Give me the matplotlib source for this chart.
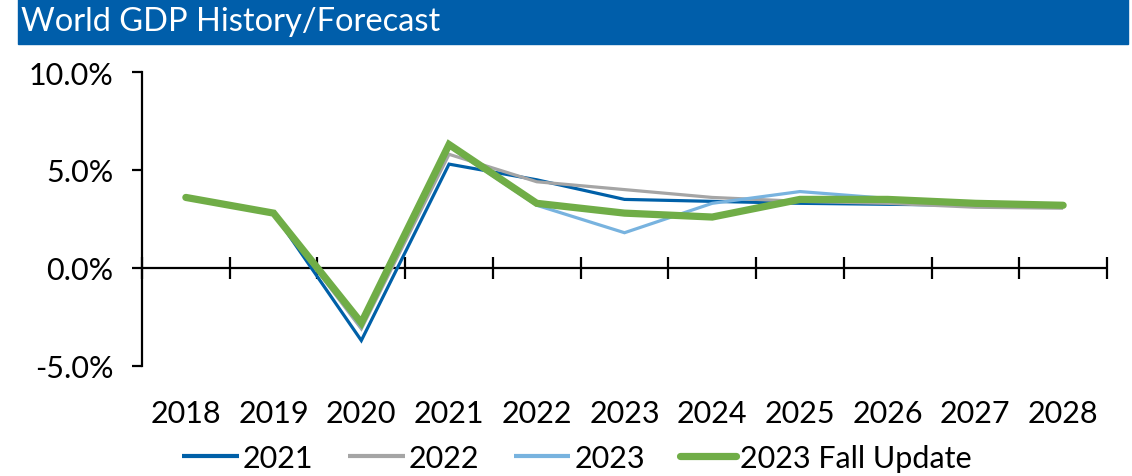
import numpy as np
import matplotlib
matplotlib.use("Agg")
import matplotlib.pyplot as plt
from matplotlib.patches import Rectangle
from matplotlib.ticker import FuncFormatter

plt.rcParams["font.family"] = ["Lato", "DejaVu Sans"]

# Croissance du PIB mondial (%), par millesime de prevision
years = ["2018", "2019", "2020", "2021", "2022", "2023",
         "2024", "2025", "2026", "2027", "2028"]
gdp_2021 = [3.6, 2.8, -3.7, 5.3, 4.5, 3.5, 3.4, 3.3, 3.25, 3.2, 3.15]
gdp_2022 = [3.6, 2.8, -3.1, 5.8, 4.4, 4.0, 3.6, 3.4, 3.3, 3.1, 3.05]
gdp_2023 = [3.6, 2.8, -3.0, 6.2, 3.2, 1.8, 3.3, 3.9, 3.55, 3.3, 3.15]
gdp_fall = [3.6, 2.8, -2.8, 6.3, 3.3, 2.8, 2.6, 3.5, 3.5, 3.3, 3.2]

series = [
    ("2021", gdp_2021, "#0060a8", 2.3),
    ("2022", gdp_2022, "#a5a5a5", 2.3),
    ("2023", gdp_2023, "#78b3df", 2.3),
    ("2023 Fall Update", gdp_fall, "#70ad47", 5.2),
]

W, H = 1132, 477
fig = plt.figure(figsize=(W / 100, H / 100), dpi=100)

# bandeau de titre
fig.patches.append(Rectangle((18 / W, 1 - 45 / H), 1110 / W, 45 / H,
                             transform=fig.transFigure, color="#005eaa", zorder=0))
fig.text(21 / W, 1 - 22 / H, "World GDP History/Forecast", color="white",
         fontsize=23.5, va="center", ha="left")

ax = fig.add_axes([142 / W, 1 - 367 / H, (1107 - 142) / W, (367 - 73) / H])
x = np.arange(len(years))

for label, vals, color, lw in series:
    ax.plot(x, vals, color=color, lw=lw, label=label,
            solid_joinstyle="miter", solid_capstyle="butt" if lw < 4 else "round")

ax.set_xlim(-0.5, len(years) - 0.5)
ax.set_ylim(-5, 10)
ax.set_yticks([-5, 0, 5, 10])
ax.yaxis.set_major_formatter(FuncFormatter(lambda v, _: f"{v:.1f}%"))
ax.tick_params(axis="y", direction="out", length=7.5, width=1.6,
               labelsize=22, pad=13)

# axe des x a zero, traits qui traversent aux limites des categories
for side in ("top", "right", "bottom"):
    ax.spines[side].set_visible(False)
ax.spines["left"].set_linewidth(1.6)
ax.axhline(0, color="black", lw=1.6, zorder=1)
bounds = np.arange(len(years) + 1) - 0.5
ax.plot(bounds, np.zeros_like(bounds), ls="none", marker="|", ms=16,
        mew=1.6, color="black", zorder=1, clip_on=False)

ax.set_xticks(x, years)
ax.tick_params(axis="x", length=0, labelsize=22, pad=24)

leg = fig.legend(loc="center", bbox_to_anchor=(577 / W, 1 - 459 / H), ncol=4,
                 frameon=False, fontsize=22, handlelength=1.85, handletextpad=0.12,
                 columnspacing=1.15)
for line in leg.get_lines():
    line.set_linewidth(max(line.get_linewidth(), 3.0))

fig.savefig("out.png", dpi=100)
